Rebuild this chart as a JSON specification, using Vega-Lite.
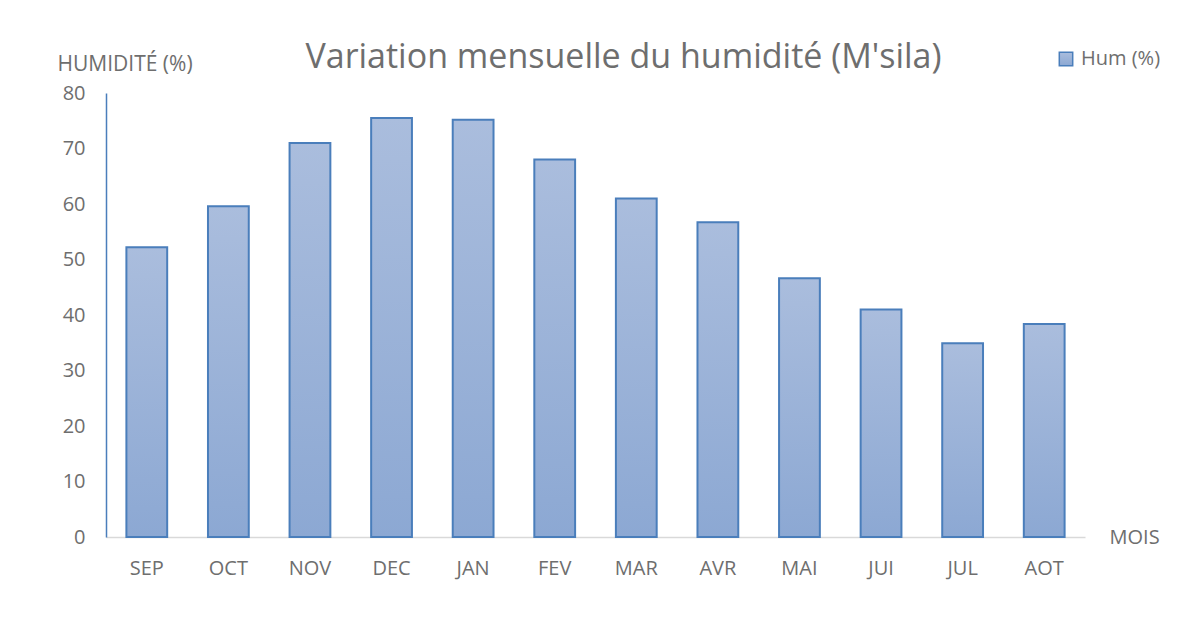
{
  "$schema": "https://vega.github.io/schema/vega-lite/v6.json",
  "width": 979,
  "height": 444,
  "autosize": "none",
  "padding": {"left": 106, "top": 93, "right": 107, "bottom": 100},
  "background": "white",
  "config": {
    "font": "Open Sans",
    "view": {"stroke": null}
  },
  "title": {
    "text": "Variation mensuelle du humidité (M'sila)",
    "fontSize": 34,
    "font": "Open Sans",
    "fontWeight": "normal",
    "color": "#6e6e6e",
    "anchor": "middle",
    "dx": 28,
    "offset": -26
  },
  "data": {
    "values": [
      {"mois": "SEP", "hum": 52.2, "serie": "Hum (%)"},
      {"mois": "OCT", "hum": 59.6, "serie": "Hum (%)"},
      {"mois": "NOV", "hum": 71.0, "serie": "Hum (%)"},
      {"mois": "DEC", "hum": 75.5, "serie": "Hum (%)"},
      {"mois": "JAN", "hum": 75.2, "serie": "Hum (%)"},
      {"mois": "FEV", "hum": 68.0, "serie": "Hum (%)"},
      {"mois": "MAR", "hum": 61.0, "serie": "Hum (%)"},
      {"mois": "AVR", "hum": 56.7, "serie": "Hum (%)"},
      {"mois": "MAI", "hum": 46.6, "serie": "Hum (%)"},
      {"mois": "JUI", "hum": 41.0, "serie": "Hum (%)"},
      {"mois": "JUL", "hum": 34.9, "serie": "Hum (%)"},
      {"mois": "AOT", "hum": 38.4, "serie": "Hum (%)"}
    ]
  },
  "mark": {
    "type": "bar",
    "fill": {
      "gradient": "linear",
      "x1": 0, "y1": 0, "x2": 0, "y2": 1,
      "stops": [
        {"offset": 0, "color": "#aabddd"},
        {"offset": 1, "color": "#8ca8d3"}
      ]
    },
    "fillOpacity": 1,
    "strokeWidth": 2
  },
  "encoding": {
    "x": {
      "field": "mois",
      "type": "nominal",
      "sort": null,
      "scale": {"paddingInner": 0.5, "paddingOuter": 0.25},
      "axis": {
        "title": "MOIS",
        "titleX": 1003,
        "titleY": 0,
        "titleAlign": "left",
        "titleBaseline": "middle",
        "titleFontSize": 20,
        "titleFontWeight": "normal",
        "titleColor": "#6e6e6e",
        "labelAngle": 0,
        "labelFontSize": 20,
        "labelColor": "#6e6e6e",
        "labelPadding": 21,
        "ticks": false,
        "domainColor": "#d9d9d9",
        "domainWidth": 1.5,
        "grid": false
      }
    },
    "y": {
      "field": "hum",
      "type": "quantitative",
      "scale": {"domain": [0, 80]},
      "axis": {
        "title": "HUMIDITÉ (%)",
        "titleAngle": 0,
        "titleX": -49,
        "titleY": -29,
        "titleAlign": "left",
        "titleBaseline": "middle",
        "titleFontSize": 21,
        "titleFontWeight": "normal",
        "titleColor": "#6e6e6e",
        "values": [0, 10, 20, 30, 40, 50, 60, 70, 80],
        "labelFontSize": 20,
        "labelColor": "#6e6e6e",
        "labelPadding": 21,
        "ticks": false,
        "domainColor": "#4a7ebb",
        "domainWidth": 1.5,
        "grid": false
      }
    },
    "stroke": {
      "field": "serie",
      "type": "nominal",
      "scale": {"range": ["#4a7ebb"]},
      "legend": {
        "title": null,
        "orient": "none",
        "legendX": 950,
        "legendY": -44,
        "symbolType": "square",
        "symbolSize": 180,
        "symbolFillColor": "#a0b6da",
        "symbolStrokeWidth": 1.5,
        "labelFontSize": 20,
        "labelColor": "#6e6e6e",
        "labelOffset": 5
      }
    }
  }
}
